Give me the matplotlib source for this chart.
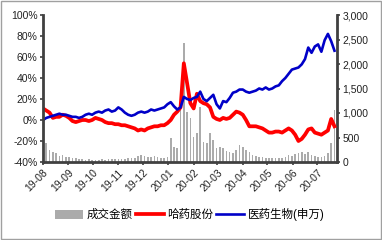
import matplotlib
matplotlib.use("Agg")
import matplotlib.pyplot as plt
import matplotlib.dates as mdates
import matplotlib.ticker as mticker
from matplotlib.patches import Patch, Rectangle
from matplotlib.lines import Line2D
import pandas as pd

plt.rcParams['font.family'] = ['Liberation Sans', 'Noto Sans CJK SC', 'DejaVu Sans']

dates = pd.date_range("2019-08-01", periods=90, freq="4D")

harbin_pct = [11, 9, 7, 2, 3, 3, 5, 4, 2, -1,
              -2, -1, 0, 0, -1, 0, 2, 1, 0, -2,
              -3, -3, -4, -4, -5, -5, -6, -7, -8, -10,
              -9, -10, -8, -7, -6, -6, -5, -5, -3, 0,
              5, 8, 12, 54, 35, 16, 11, 25, 18, 16,
              15, 12, 3, 1, 0, 2, 1, 2, 5, 8,
              7, 5, 0, -6, -6, -6, -7, -8, -10, -12,
              -12, -11, -11, -12, -10, -8, -10, -14, -20, -18,
              -14, -9, -8, -12, -13, -14, -12, -10, 1, -6]

pharma_pct = [0, 2, 3, 4, 5, 6, 5, 5, 4, 3,
              3, 2, 3, 5, 6, 5, 7, 8, 7, 9,
              10, 8, 9, 12, 10, 7, 5, 4, 5, 7,
              8, 7, 8, 10, 9, 10, 11, 12, 15, 17,
              13, 10, 12, 22, 20, 19, 21, 22, 27, 20,
              18, 21, 24, 15, 11, 18, 17, 21, 26, 27,
              29, 29, 27, 26, 27, 28, 30, 29, 31, 29,
              30, 32, 33, 37, 40, 44, 48, 49, 50, 53,
              58, 69, 64, 70, 72, 65, 76, 82, 75, 66]

turnover = [450, 380, 250, 200, 180, 120, 150, 100, 110, 80,
            90, 70, 60, 50, 60, 40, 50, 45, 55, 50,
            60, 55, 60, 70, 65, 70, 80, 75, 90, 130,
            140, 120, 100, 110, 130, 100, 90, 80, 100, 490,
            300, 280, 1060, 2430, 1020, 900, 510, 590, 1120, 410,
            390, 590, 450, 285, 300, 285, 220, 200, 180, 250,
            350, 300, 245, 200, 150, 120, 100, 100, 90, 80,
            90, 80, 80, 90, 110, 150, 130, 160, 185, 200,
            170, 200, 150, 120, 100, 110, 130, 180, 390, 1060]

legend_labels = ["成交金额", "哈药股份", "医药生物(申万)"]

fig = plt.figure(figsize=(3.82, 2.40), dpi=100)
ax = fig.add_axes([0.1126, 0.325, 0.882 - 0.1126, 0.9375 - 0.325])
ax2 = ax.twinx()
ax.set_zorder(ax2.get_zorder() + 1)
ax.patch.set_visible(False)

ax2.bar(dates, turnover, width=2.0, color="#ababab", linewidth=0)
ax.plot(dates, harbin_pct, color="#ff0000", linewidth=2.7, solid_joinstyle="round")
ax.plot(dates, pharma_pct, color="#0000c8", linewidth=1.9, solid_joinstyle="round")

xmin = pd.Timestamp("2019-08-01")
xmax = pd.Timestamp("2020-07-25")
ax.set_xlim(xmin, xmax)
ax2.set_xlim(xmin, xmax)
ax.set_ylim(-40, 100)
ax2.set_ylim(0, 3000)
ax.yaxis.set_major_locator(mticker.MultipleLocator(20))
ax.yaxis.set_major_formatter(mticker.FuncFormatter(lambda v, p: f"{int(v)}%"))
ax2.yaxis.set_major_locator(mticker.MultipleLocator(500))
ax2.yaxis.set_major_formatter(mticker.FuncFormatter(lambda v, p: f"{int(v):,}"))
ax.xaxis.set_major_locator(mdates.MonthLocator())
ax.xaxis.set_major_formatter(mdates.DateFormatter("%y-%m"))

spine_c = "#404040"
for a in (ax, ax2):
    a.spines["top"].set_visible(False)
    for s in ("left", "right", "bottom"):
        a.spines[s].set_color(spine_c)
        a.spines[s].set_linewidth(2.0)
ax.spines["right"].set_visible(False)
ax2.spines["left"].set_visible(False)
ax2.spines["bottom"].set_visible(False)

ax.tick_params(axis="y", labelsize=7.5, length=2.5, width=1.2, color=spine_c, pad=1.5, labelcolor="#222222")
ax2.tick_params(axis="y", labelsize=7.5, length=2.5, width=1.2, color=spine_c, pad=1.5, labelcolor="#222222")
ax.tick_params(axis="x", labelsize=7.5, length=2.5, width=1.2, color=spine_c, pad=1.5, labelcolor="#222222")
for lbl in ax.get_xticklabels():
    lbl.set_rotation(45)
    lbl.set_ha("right")
    lbl.set_rotation_mode("anchor")

handles = [Patch(facecolor="#ababab", edgecolor="none"),
           Line2D([], [], color="#ff0000", linewidth=2.7),
           Line2D([], [], color="#0000c8", linewidth=1.9)]
fig.legend(handles, legend_labels, loc="center", bbox_to_anchor=(0.497, 0.105), ncol=3,
           frameon=False, handlelength=2.4, handleheight=0.8,
           columnspacing=0.3, handletextpad=0.3,
           prop={'family': ['Liberation Sans', 'Noto Sans CJK SC', 'DejaVu Sans'], 'size': 8.3})

fig.patches.append(Rectangle((0.002, 0.004), 0.995, 0.992, transform=fig.transFigure,
                             fill=False, edgecolor="#a0a0a0", linewidth=1))

fig.savefig("out.png", dpi=100)
